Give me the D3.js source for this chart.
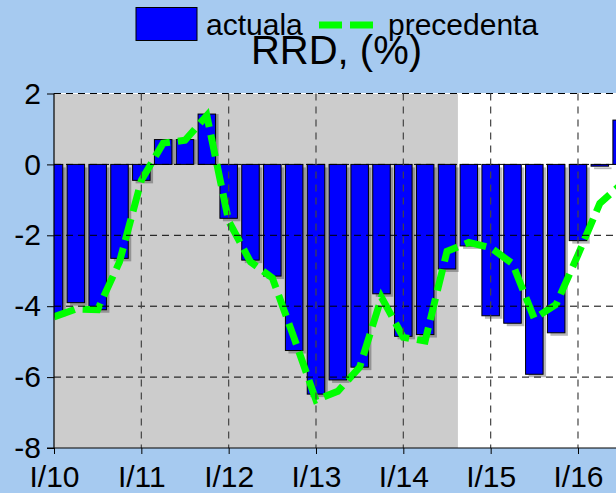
<!DOCTYPE html>
<html>
<head>
<meta charset="utf-8">
<script src="https://cdn.jsdelivr.net/npm/d3@7"></script>
<style>
  html, body { margin: 0; padding: 0; background: #a6caf0; }
  svg { display: block; font-family: "Liberation Sans", Arial, sans-serif; }
</style>
</head>
<body>
<svg id="chart" width="616" height="493"></svg>
<script>
// ---- data ----
const quarters = d3.range(27); // I/10 .. III/16 (quarter index)
const xTickValues = [0, 4, 8, 12, 16, 20, 24];
const xTickLabels = ["I/10", "I/11", "I/12", "I/13", "I/14", "I/15", "I/16"];
const yTickValues = [-8, -6, -4, -2, 0, 2];
const actuala = [-4.2, -3.9, -4.1, -2.65, -0.45, 0.7, 0.7, 1.42, -1.52, -2.7, -3.15, -5.25, -6.48, -6.08,
                 -5.72, -3.65, -4.85, -4.8, -2.95, -2.3, -4.27, -4.48, -5.92, -4.75, -2.15, -0.05, 1.25];
const precedenta = [-4.3, -4.08, -4.1, -2.75, -0.45, 0.6, 0.68, 1.38, -1.6, -2.75, -3.2, -4.9, -6.65, -6.4,
                    -5.72, -3.75, -4.88, -4.98, -2.45, -2.2, -2.35, -2.8, -4.35, -3.95, -2.55, -1.1, -0.55];
const shadedUntil = 18.5; // grey background up to this quarter position
const title = "RRD, (%)";
const legendLabels = ["actuala", "precedenta"];

// ---- layout ----
const svg = d3.select("#chart");
const W = 616, H = 493;
const plot = { left: 54, top: 93.5, bottom: 448, right: 680 };
const step = 21.833;
const x = d3.scaleLinear().domain([0, 1]).range([plot.left, plot.left + step]);
const y = d3.scaleLinear().domain([-8, 2]).range([plot.bottom, plot.top]);
const barW = 17.5;

svg.append("rect").attr("width", W).attr("height", H).attr("fill", "#a6caf0");

const defs = svg.append("defs");
defs.append("clipPath").attr("id", "clip")
  .append("rect").attr("x", plot.left).attr("y", plot.top - 10)
  .attr("width", plot.right - plot.left).attr("height", plot.bottom - plot.top + 10);

// backgrounds
svg.append("rect").attr("x", plot.left).attr("y", plot.top)
  .attr("width", plot.right - plot.left).attr("height", plot.bottom - plot.top).attr("fill", "#ffffff");
svg.append("rect").attr("x", plot.left).attr("y", plot.top)
  .attr("width", x(shadedUntil) - plot.left).attr("height", plot.bottom - plot.top).attr("fill", "#cccccc");

const g = svg.append("g").attr("clip-path", "url(#clip)");

// bar shadows
g.selectAll("rect.shadow").data(quarters).join("rect").attr("class", "shadow")
  .attr("x", i => x(i) - barW / 2 + 3)
  .attr("y", i => Math.min(y(actuala[i]), y(0)) + (actuala[i] < 0 ? 3 : 0))
  .attr("width", barW)
  .attr("height", i => Math.abs(y(actuala[i]) - y(0)))
  .attr("fill", "#000").attr("opacity", 0.28);

// bars
g.selectAll("rect.bar").data(quarters).join("rect").attr("class", "bar")
  .attr("x", i => x(i) - barW / 2)
  .attr("y", i => Math.min(y(actuala[i]), y(0)))
  .attr("width", barW)
  .attr("height", i => Math.max(1, Math.abs(y(actuala[i]) - y(0))))
  .attr("fill", "#0000ff").attr("stroke", "#000").attr("stroke-width", 1);

// grid lines (drawn above bars)
svg.append("line").attr("x1", plot.left).attr("x2", W).attr("y1", plot.top).attr("y2", plot.top)
  .attr("stroke", "#fff").attr("stroke-width", 1);
svg.selectAll("line.hgrid").data(yTickValues.filter(v => v > -8)).join("line").attr("class", "hgrid")
  .attr("x1", plot.left).attr("x2", W)
  .attr("y1", d => y(d)).attr("y2", d => y(d))
  .attr("stroke", "#000").attr("stroke-width", 1).attr("stroke-dasharray", "7,5");
svg.selectAll("line.vgrid").data(xTickValues.filter(v => v > 0)).join("line").attr("class", "vgrid")
  .attr("x1", d => x(d)).attr("x2", d => x(d))
  .attr("y1", plot.top).attr("y2", plot.bottom)
  .attr("stroke", "#444").attr("stroke-width", 1.2).attr("stroke-dasharray", "7,6");

// line series
const line = d3.line().x(i => x(i)).y(i => y(precedenta[i]));
g.append("path").datum(quarters).attr("d", line)
  .attr("fill", "none").attr("stroke", "#00ff00").attr("stroke-width", 7)
  .attr("stroke-dasharray", "22,8").attr("stroke-linejoin", "miter");

// axes
const yAxis = d3.axisLeft(y).tickValues(yTickValues).tickSize(7).tickPadding(6).tickFormat(d => String(d));
const yg = svg.append("g").attr("transform", `translate(${plot.left},0)`).call(yAxis);
const xAxis = d3.axisBottom(x).tickValues(xTickValues).tickSize(6).tickPadding(12)
  .tickFormat((d, i) => xTickLabels[i]);
const xg = svg.append("g").attr("transform", `translate(0,${plot.bottom})`).call(xAxis);
[yg, xg].forEach(a => {
  a.select(".domain").remove();
  a.selectAll("line").attr("stroke", "#000");
  a.selectAll("text").attr("font-size", 30).attr("fill", "#000")
    .attr("font-family", "Liberation Sans, Arial, sans-serif");
});
svg.append("line").attr("x1", plot.left).attr("x2", plot.left).attr("y1", plot.top).attr("y2", plot.bottom)
  .attr("stroke", "#000").attr("stroke-width", 1.2);
svg.append("line").attr("x1", plot.left - 7).attr("x2", W).attr("y1", plot.bottom).attr("y2", plot.bottom)
  .attr("stroke", "#000").attr("stroke-width", 1.2);

// legend
svg.append("rect").attr("x", 136).attr("y", 7.5).attr("width", 61).attr("height", 33)
  .attr("fill", "#0000ff").attr("stroke", "#000").attr("stroke-width", 1);
svg.append("text").attr("x", 206).attr("y", 35).attr("font-size", 30).text(legendLabels[0]);
svg.append("line").attr("x1", 319).attr("x2", 373).attr("y1", 25).attr("y2", 25)
  .attr("stroke", "#00ff00").attr("stroke-width", 7).attr("stroke-dasharray", "23,8");
svg.append("text").attr("x", 388).attr("y", 35).attr("font-size", 30).text(legendLabels[1]);

// title
svg.append("text").attr("x", 336.5).attr("y", 64).attr("text-anchor", "middle")
  .attr("font-size", 40).text(title);
</script>
</body>
</html>
